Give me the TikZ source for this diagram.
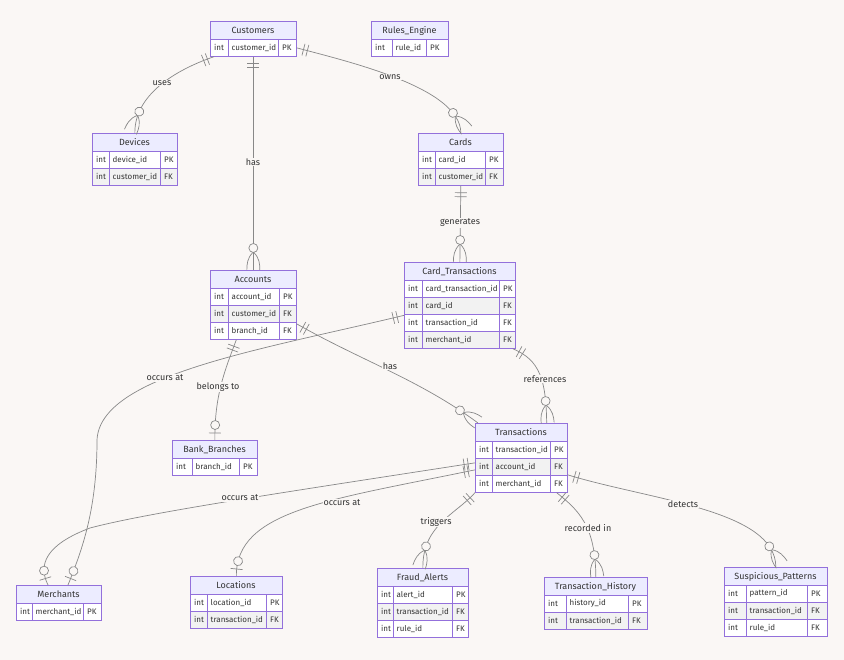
\documentclass[tikz,border=0pt]{standalone}
\usepackage{fontspec}
\setmainfont{Fira Sans}
\usetikzlibrary{decorations.markings}
\definecolor{erBg}{HTML}{FAF7F5}
\definecolor{erHead}{HTML}{ECECFF}
\definecolor{erBorder}{HTML}{9370DB}
\definecolor{erEven}{HTML}{F2F2F2}
\definecolor{erLine}{HTML}{888888}
\definecolor{erText}{HTML}{333333}
\tikzset{
 erline/.style={draw=erLine, line width=0.7pt},
 ertitle/.style={font=\fontsize{9}{10}\selectfont, text=erText, inner sep=0pt},
 ercell/.style={font=\fontsize{8}{9}\selectfont, text=erText, inner sep=0pt, anchor=west},
 erlabel/.style={font=\fontsize{9}{10}\selectfont, text=erText, fill=erBg, inner sep=1pt},
 onestart/.style={postaction={decorate,decoration={markings,
   mark=at position 7pt with {\draw[erline] (0pt,-6pt)--(0pt,6pt);},
   mark=at position 11pt with {\draw[erline] (0pt,-6pt)--(0pt,6pt);}}}},
 crowend/.style={postaction={decorate,decoration={markings,
   mark=at position -22pt with {\draw[erline,fill=erBg] (0pt,0pt) circle (4.5pt);
      \draw[erline] (4.5pt,0.5pt) .. controls (10pt,6pt) and (16pt,6.5pt) .. (22pt,6.5pt);
      \draw[erline] (4.5pt,-0.5pt) .. controls (10pt,-6pt) and (16pt,-6.5pt) .. (22pt,-6.5pt);}}}},
 optend/.style={postaction={decorate,decoration={markings,
   mark=at position -15pt with {\draw[erline,fill=erBg] (0pt,0pt) circle (4.5pt);},
   mark=at position -7pt with {\draw[erline] (0pt,-6pt)--(0pt,6pt);}}}},
}
\newcommand\ertable[9]{%
 \pgfmathsetmacro\erW{#4+#5+#6}%
 \pgfmathsetmacro\erH{18+17*#7}%
 \fill[erHead] (#2,#3) rectangle ++(\erW,18);
 \node[ertitle] (#1-title) at ({#2+\erW/2},{#3+9.5}) {#8};
 \foreach \ty/\tn/\tk [count=\i] in {#9} {%
   \pgfmathsetmacro\ry{#3+18+17*(\i-1)}%
   \ifodd\i\relax\def\rowcol{white}\else\def\rowcol{erEven}\fi
   \fill[\rowcol] (#2,\ry) rectangle ++(\erW,17);
   \draw[erBorder, line width=0.7pt] (#2,\ry) -- ++(\erW,0);
   \draw[erBorder, line width=0.7pt] ({#2+#4},\ry) -- ++(0,17) ({#2+#4+#5},\ry) -- ++(0,17);
   \node[ercell] (#1-t\i) at ({#2+4},{\ry+8.5}) {\ty};
   \node[ercell] (#1-n\i) at ({#2+#4+3.5},{\ry+8.5}) {\tn};
   \node[ercell] (#1-k\i) at ({#2+#4+#5+4},{\ry+8.5}) {\tk};
 }
 \node[draw=erBorder, line width=0.7pt, minimum width={\erW*1pt}, minimum height={\erH*1pt}, inner sep=0pt, anchor=north west] (#1) at (#2,#3) {};
}
\begin{document}
\begin{tikzpicture}[x=1pt,y=-1pt]
\fill[erBg] (0,0) rectangle (844,660);
\useasboundingbox (0,0) rectangle (844,660);
% tables
\ertable{cust}{210}{21}{18}{50}{18}{1}{Customers}{int/customer\_id/PK}
\ertable{rules}{371}{21}{21}{34}{22}{1}{Rules\_Engine}{int/rule\_id/PK}
\ertable{dev}{92}{133}{17}{51}{17}{2}{Devices}{int/device\_id/PK, int/customer\_id/FK}
\ertable{cards}{418}{133}{17}{50}{18}{2}{Cards}{int/card\_id/PK, int/customer\_id/FK}
\ertable{acc}{210}{270}{18}{51}{17}{3}{Accounts}{int/account\_id/PK, int/customer\_id/FK, int/branch\_id/FK}
\ertable{ct}{404}{262}{18}{77}{16}{4}{Card\_Transactions}{int/card\_transaction\_id/PK, int/card\_id/FK, int/transaction\_id/FK, int/merchant\_id/FK}
\ertable{bb}{172}{440}{20}{47}{18}{1}{Bank\_Branches}{int/branch\_id/PK}
\ertable{tr}{475}{423}{17}{58}{17}{3}{Transactions}{int/transaction\_id/PK, int/account\_id/FK, int/merchant\_id/FK}
\ertable{merch}{16}{585}{16}{51}{18}{1}{Merchants}{int/merchant\_id/PK}
\ertable{loc}{190}{576}{17}{59}{16}{2}{Locations}{int/location\_id/PK, int/transaction\_id/FK}
\ertable{fa}{377}{568}{16}{59}{16}{3}{Fraud\_Alerts}{int/alert\_id/PK, int/transaction\_id/FK, int/rule\_id/FK}
\ertable{th}{544}{577}{22}{62}{19}{2}{Transaction\_History}{int/history\_id/PK, int/transaction\_id/FK}
\ertable{sp}{724}{567}{22}{61}{20}{3}{Suspicious\_Patterns}{int/pattern\_id/PK, int/transaction\_id/FK, int/rule\_id/FK}
% connectors
\draw[erline,onestart,crowend] ([xshift=4pt]cust.south west) .. controls (175,70) and (134.5,95) .. (dev.north);
\draw[erline,onestart,crowend] ([yshift=-9pt]cust.east) .. controls (350,62) and (460.5,88) .. (cards.north);
\draw[erline,onestart,crowend] (cust.south) -- (acc.north);
\draw[erline,onestart,crowend] (cards.south) -- (ct.north);
\draw[erline,onestart,optend] ([xshift=-17pt]acc.south) .. controls (225,370) and (214.5,395) .. (bb.north);
\draw[erline,onestart,crowend] ([yshift=-19pt]acc.east) .. controls (360,360) and (420,380) .. ([xshift=3pt]tr.north west);
\draw[erline,onestart,crowend] ([xshift=-3pt]ct.south east) .. controls (540,360) and (546,380) .. ([xshift=-21pt]tr.north east);
\draw[erline,onestart,optend] ([yshift=-10pt]ct.west) .. controls (260,350) and (100,375) .. (97,440) .. controls (97,510) and (82,550) .. ([xshift=52pt]merch.north west);
\draw[erline,onestart,optend] ([yshift=-5pt]tr.west) .. controls (300,490) and (150,512) .. (90,528) .. controls (45,545) and (38,565) .. ([xshift=32pt]merch.north west);
\draw[erline,onestart,optend] ([yshift=-12pt]tr.west) .. controls (330,500) and (236,510) .. (loc.north);
\draw[erline,onestart,crowend] (tr.south west) .. controls (455,515) and (422.5,525) .. (fa.north);
\draw[erline,onestart,crowend] ([xshift=-11pt]tr.south east) .. controls (578,510) and (595.5,525) .. (th.north);
\draw[erline,onestart,crowend] ([yshift=-17pt]tr.east) .. controls (650,500) and (775.5,510) .. (sp.north);
% labels
\node[erlabel] (l-uses) at (162,83) {uses};
\node[erlabel] (l-owns) at (390,77) {owns};
\node[erlabel] (l-has1) at (253,162) {has};
\node[erlabel] (l-gen) at (460,223) {generates};
\node[erlabel] (l-bel) at (218,387) {belongs to};
\node[erlabel] (l-has2) at (390,366) {has};
\node[erlabel] (l-ref) at (545,379) {references};
\node[erlabel] (l-occ1) at (165,378) {occurs at};
\node[erlabel] (l-occ2) at (240,498) {occurs at};
\node[erlabel] (l-occ3) at (342,503) {occurs at};
\node[erlabel] (l-trig) at (436,522) {triggers};
\node[erlabel] (l-rec) at (588,528) {recorded in};
\node[erlabel] (l-det) at (683,504) {detects};
\end{tikzpicture}
\end{document}
